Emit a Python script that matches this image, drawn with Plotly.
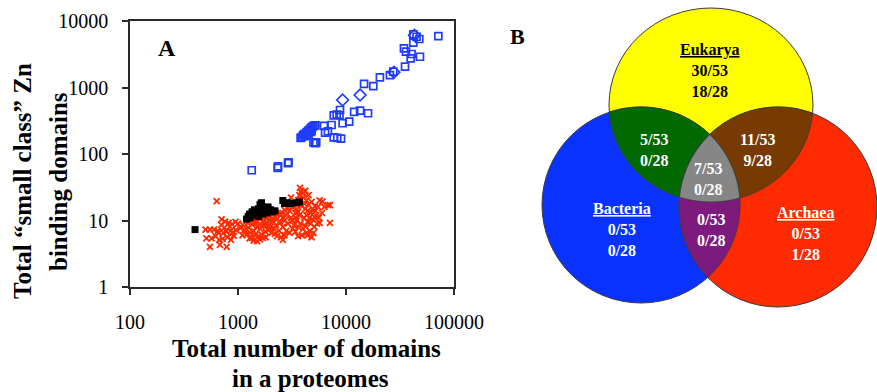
import numpy as np
import plotly.graph_objects as go

# ---------------- Panel A data: total domains vs. small-class Zn binding domains
# Eukaryotic proteomes (open squares)
euk_total = [1340, 2330, 2350, 2940, 2900,
             3800, 3900, 4000, 4100, 4200, 4200, 4300, 4400, 4400, 4500, 4500, 4600,
             4700, 4700, 4800, 4800, 4900, 5000, 5200,
             5000, 5300, 5200,
             6250, 7350, 6400, 6800, 7700, 8300, 9000,
             7700, 8200, 8700, 8800, 9300, 10700, 11900, 13500, 16000,
             14700, 17900, 20600, 25500, 27400,
             35200, 34400, 35900, 40500, 39700, 48400, 42000, 42000, 45000, 47700, 71600]
euk_zn = [57, 62, 65, 75, 73,
          175, 180, 190, 200, 195, 185, 210, 215, 205, 225, 200, 230,
          240, 215, 250, 220, 255, 265, 270,
          150, 150, 145,
          264, 273, 210, 220, 178, 175, 170,
          380, 390, 385, 459, 290, 306, 430, 450, 410,
          1130, 1050, 1420, 1540, 1730,
          2060, 3880, 3470, 3190, 2750, 2900, 4720, 6300, 5800, 5360, 5940]
# a few eukaryotic proteomes drawn with diamonds
euk2_total = [9300, 13500, 27800, 43000]
euk2_zn = [649, 771, 1700, 6100]

# Bacterial proteomes (crosses)
bac_total = [500, 550, 600, 510, 570, 550, 680, 635, 705, 760, 840, 780, 850, 900,
             730, 660, 670, 785, 620, 700, 750, 820, 880, 950, 1000, 1050, 1110,
             1230, 960, 910, 800, 650, 720, 860,
             1300, 1350, 1400, 1450, 1500, 1550, 1600, 1650, 1700, 1750, 1800, 1850,
             1900, 1950, 2000, 2050, 2100, 2150, 2200, 2250, 2300, 2400, 2450, 2500,
             1300, 1400, 1500, 1600, 1700, 1800, 1900, 2000, 1250, 1200, 1350, 1450,
             1550, 1650, 1750, 1850, 1950, 2100, 2200, 2350, 1400, 1600, 1800, 2600,
             2500, 2700, 1100, 1150, 2300, 1280, 1500,
             2600, 2700, 2800, 2900, 3000, 3100, 3200, 3300, 3400, 3500, 3600, 3700,
             3800, 3750, 4000, 4100, 4200, 4300, 4400, 4500, 4600, 4700, 4800, 4900,
             5000, 5200, 5400, 5600, 5700, 5700, 6000, 6300, 7100, 7100, 6800, 6050,
             2800, 3000, 3200, 3400, 3600, 3800, 4000, 4200, 4400, 4600, 3500, 3300,
             3100, 3000, 2900, 2700, 3700, 3900, 4100, 4300, 4500, 4700, 4900, 5100,
             5300, 5500, 4040, 3800, 4200, 3600, 3400, 3200, 2600, 2500, 4800, 3900,
             5200, 3600, 4400, 5160, 4300]
bac_zn = [7.3, 7.3, 7.3, 5.4, 5.4, 4.0, 4.3, 19.6, 10.4, 9.6, 8.1, 6.8, 7.0, 6.6,
          6.5, 6.5, 5.1, 4.0, 5.8, 8.6, 7.8, 9.2, 8.8, 9.5, 9.0, 7.7, 8.6,
          9.2, 7.2, 5.9, 5.6, 7.0, 5.3, 5.1,
          6.5, 5.5, 7.0, 6.0, 8.0, 5.8, 7.5, 6.2, 5.5, 8.5, 6.8, 9.0,
          7.2, 10.0, 8.0, 6.5, 9.5, 7.5, 11.0, 8.5, 10.5, 7.0, 9.2, 12.0,
          9.8, 10.2, 9.5, 10.5, 9.8, 11.0, 8.5, 11.5, 7.8, 6.2, 8.7, 9.1,
          11.2, 8.4, 10.3, 12.0, 7.6, 12.5, 6.3, 12.8, 5.0, 5.2, 5.6, 5.1,
          5.6, 6.0, 6.0, 7.2, 5.8, 5.4, 4.9,
          8.0, 10.0, 12.0, 9.0, 14.0, 11.0, 16.0, 8.5, 13.0, 10.0, 20.0, 24.0,
          27.0, 31.0, 22.0, 18.0, 15.0, 12.0, 9.5, 17.0, 7.0, 13.0, 19.0, 10.5,
          6.5, 14.0, 9.0, 11.0, 9.2, 20.0, 13.0, 16.0, 17.0, 9.2, 17.0, 19.3,
          7.0, 6.5, 7.5, 6.8, 8.0, 9.0, 7.5, 8.2, 6.0, 11.0, 15.0, 18.0,
          22.0, 17.0, 15.0, 14.5, 12.0, 16.5, 11.0, 20.0, 24.0, 9.0, 15.0, 8.0,
          12.0, 16.0, 25.7, 21.0, 28.0, 13.5, 11.0, 10.0, 11.0, 13.0, 5.6, 6.0,
          11.0, 5.8, 14.0, 16.3, 6.5]

# Archaeal proteomes (filled squares)
arc_total = [400, 1200, 1240, 1280, 1300, 1350, 1400, 1420, 1480, 1550, 1600, 1650,
             1700, 1750, 1800, 1850, 1900, 2000, 2100, 2200, 1700, 1550,
             2600, 2700, 2900, 3100, 3500, 3700]
arc_zn = [7.3, 10.5, 11.5, 12.5, 11.0, 13.5, 12.0, 14.5, 13.0, 15.0, 17.5, 18.5,
          16.0, 14.0, 15.0, 13.0, 16.0, 14.5, 13.5, 14.0, 12.5, 11.5,
          20.0, 18.0, 18.5, 18.0, 18.5, 19.0]

x_ticks = [100, 1000, 10000, 100000]
y_ticks = [1, 10, 100, 1000, 10000]

# ---------------- Panel B data: Venn counts (of 53 and of 28)
venn_sets = ["Eukarya", "Bacteria", "Archaea"]
only_of53 = [30, 0, 0]
only_of28 = [18, 0, 1]
euk_bac = (5, 0)
euk_arc = (11, 9)
bac_arc = (0, 0)
all_three = (7, 0)
total_a, total_b = 53, 28

W, H = 877, 392
SERIF = "Liberation Serif"


def px(x):
    return x / W


def py(y):
    return 1 - y / H


fig = go.Figure()

fig.add_trace(go.Scatter(
    x=bac_total, y=bac_zn, mode="markers", name="Bacteria",
    marker=dict(symbol="x-thin", size=6, color="#ff2a00",
                line=dict(color="#ff2a00", width=1.8)),
    hoverinfo="skip"))
fig.add_trace(go.Scatter(
    x=arc_total, y=arc_zn, mode="markers", name="Archaea",
    marker=dict(symbol="square", size=7, color="black"),
    hoverinfo="skip"))
fig.add_trace(go.Scatter(
    x=euk_total, y=euk_zn, mode="markers", name="Eukarya",
    marker=dict(symbol="square-open", size=7, color="#1f3cff",
                line=dict(color="#1f3cff", width=1.7)),
    hoverinfo="skip"))
fig.add_trace(go.Scatter(
    x=euk2_total, y=euk2_zn, mode="markers", name="Eukarya ",
    marker=dict(symbol="diamond-open", size=9, color="#1f3cff",
                line=dict(color="#1f3cff", width=1.7)),
    hoverinfo="skip"))

# empty trace so the Venn coordinate system exists
fig.add_trace(go.Scatter(x=[None], y=[None], xaxis="x2", yaxis="y2",
                         hoverinfo="skip", showlegend=False))

axis_common = dict(type="log", showgrid=False, zeroline=False, showline=True,
                   mirror=True, linecolor="#2a2a2a", linewidth=1.5, automargin=False,
                   ticks="outside", ticklen=6, tickcolor="#2a2a2a", tickwidth=1.5,
                   tickfont=dict(family=SERIF, size=20, color="black"))

fig.update_layout(
    template="none",
    width=W, height=H, margin=dict(l=0, r=0, t=0, b=0, pad=0),
    paper_bgcolor="white", plot_bgcolor="white", showlegend=False,
    xaxis=dict(domain=[px(130), px(454)], range=[2, 5],
               tickvals=x_ticks, ticktext=[str(v) for v in x_ticks],
               ticklabelstandoff=10, **axis_common),
    yaxis=dict(domain=[py(287), py(21)], range=[0, 4],
               tickvals=y_ticks, ticktext=[str(v) for v in y_ticks],
               ticklabelstandoff=10, **axis_common),
    xaxis2=dict(domain=[px(500), 1], range=[500, 877], visible=False,
                anchor="y2", fixedrange=True, automargin=False),
    yaxis2=dict(domain=[0, 1], range=[392, 0], visible=False,
                anchor="x2", fixedrange=True, automargin=False),
)

# ---------------- Panel A text
title_font = dict(family=SERIF, size=25, color="black")
annotations = [
    dict(text="<b>A</b>", x=px(167), y=py(48), font=dict(family=SERIF, size=24, color="black")),
    dict(text="<b>Total number of domains</b>", x=px(306), y=py(348), font=title_font),
    dict(text="<b>in a proteomes</b>", x=px(310), y=py(378), font=title_font),
    dict(text="<b>Total “small class” Zn</b>", x=px(22), y=py(181), textangle=-90, font=title_font),
    dict(text="<b>binding domains</b>", x=px(58), y=py(181), textangle=-90, font=title_font),
    dict(text="<b>B</b>", x=px(517), y=py(36), font=dict(family=SERIF, size=22, color="black")),
]
for a in annotations:
    a.update(xref="paper", yref="paper", showarrow=False, xanchor="center", yanchor="middle")

# ---------------- Panel B: three-set Venn diagram
circles = {
    "Eukarya": (711, 105, 102, 97),
    "Bacteria": (641, 205, 99, 98),
    "Archaea": (778, 207, 99, 100),
}
fills = {"Eukarya": "#ffff00", "Bacteria": "#0a32ff", "Archaea": "#ff2a00"}
EDGE = dict(color="#3c3c3c", width=1)


def boundary(cx, cy, rx, ry, n=900):
    t = np.linspace(0, 2 * np.pi, n, endpoint=False)
    return np.column_stack([cx + rx * np.cos(t), cy + ry * np.sin(t)])


def inside(pts, e):
    cx, cy, rx, ry = e
    return ((pts[:, 0] - cx) / rx) ** 2 + ((pts[:, 1] - cy) / ry) ** 2 <= 1 + 1e-9


def overlap_path(ells):
    parts = []
    for i, e in enumerate(ells):
        b = boundary(*e)
        keep = np.ones(len(b), bool)
        for j, o in enumerate(ells):
            if j != i:
                keep &= inside(b, o)
        parts.append(b[keep])
    pts = np.vstack(parts)
    c = pts.mean(axis=0)
    pts = pts[np.argsort(np.arctan2(pts[:, 1] - c[1], pts[:, 0] - c[0]))]
    return "M " + " L ".join(f"{x:.2f},{y:.2f}" for x, y in pts) + " Z"


shapes = []
for name in ["Eukarya", "Bacteria", "Archaea"]:
    cx, cy, rx, ry = circles[name]
    shapes.append(dict(type="circle", xref="x2", yref="y2",
                       x0=cx - rx, x1=cx + rx, y0=cy - ry, y1=cy + ry,
                       fillcolor=fills[name], line=EDGE, layer="above"))

E, B, A = circles["Eukarya"], circles["Bacteria"], circles["Archaea"]
for ells, col in [((E, B), "#006a00"), ((E, A), "#773a00"),
                  ((B, A), "#7d1a7d"), ((E, B, A), "#868686")]:
    shapes.append(dict(type="path", xref="x2", yref="y2", path=overlap_path(ells),
                       fillcolor=col, line=EDGE, layer="above"))

vfont = dict(family=SERIF, size=16)


def frac(a, b):
    return f"{a}/{total_a}<br>{b}/{total_b}"


venn_text = [
    (f"<u>{venn_sets[0]}</u><br>{only_of53[0]}/{total_a}<br>{only_of28[0]}/{total_b}", 710, 70, "black"),
    (f"<u>{venn_sets[1]}</u><br>{only_of53[1]}/{total_a}<br>{only_of28[1]}/{total_b}", 622, 229, "white"),
    (f"<u>{venn_sets[2]}</u><br>{only_of53[2]}/{total_a}<br>{only_of28[2]}/{total_b}", 805, 233, "white"),
    (frac(*euk_bac), 654, 150, "white"),
    (frac(*euk_arc), 758, 150, "white"),
    (frac(*all_three), 708, 179, "white"),
    (frac(*bac_arc), 711, 230, "white"),
]
for txt, x, y, col in venn_text:
    annotations.append(dict(text=f"<b>{txt}</b>", x=x, y=y, xref="x2", yref="y2",
                            showarrow=False, xanchor="center", yanchor="middle",
                            font=dict(color=col, **vfont)))

fig.update_layout(shapes=shapes, annotations=annotations)

fig.write_html("out.html")
